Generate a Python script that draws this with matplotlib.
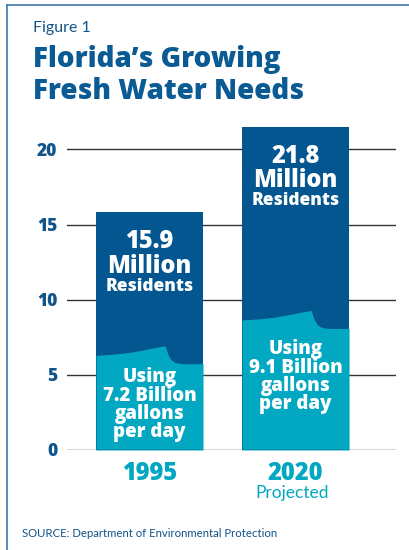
import matplotlib.pyplot as plt
import numpy as np
from matplotlib.lines import Line2D

years = ['1995', '2020']
residents = [15.9, 21.8]          # million residents (label values)
bar_height = [15.8, 21.5]         # bar tops as drawn
water_use = [7.2, 9.1]            # billion gallons per day
water_level = [6.3, 8.65]         # left edge of the water surface
yticks = [0, 5, 10, 15, 20]

dark = '#03568f'
teal = '#02a7c2'
navy = '#11548a'
font = 'Lato'
bfont = 'Open Sans'
heavy = 'extra bold'

fig = plt.figure(figsize=(4.09, 5.50), dpi=100)
ax = fig.add_axes([67 / 409, 100 / 550, 329 / 409, 330.7 / 550])

x = np.arange(len(years))
width = 0.733

# gridlines sit behind the bars
for t in yticks[1:]:
    ax.axhline(t, color='#333333', lw=1.0, zorder=0)

ax.bar(x, bar_height, width, color=dark, zorder=2)

# water with a curling wave on top
cu = [0, 0.15, 0.3, 0.45, 0.57, 0.62, 0.645, 0.655, 0.665, 0.68, 0.70, 0.73, 0.77, 0.82, 1.0]
co = [0, 0.07, 0.18, 0.37, 0.54, 0.61, 0.62, 0.45, 0.2, -0.05, -0.28, -0.45, -0.53, -0.56, -0.56]
u = np.linspace(0, 1, 300)
off = np.interp(u, cu, co)
for xi, lvl in zip(x, water_level):
    xs = xi - width / 2 + u * width
    ax.fill_between(xs, 0, lvl + off, color=teal, lw=0, zorder=3)

ax.axhline(0, color='#333333', lw=1.0, zorder=4)

# labels inside bars
for xi, top, r in zip(x, bar_height, residents):
    ax.text(xi, top - 2.38, f'{r}', ha='center', va='baseline', color='white',
            fontsize=17, fontweight=heavy, family=bfont, zorder=5)
    ax.text(xi, top - 4.03, 'Million', ha='center', va='baseline', color='white',
            fontsize=17, fontweight=heavy, family=bfont, zorder=5)
    ax.text(xi, top - 5.22, 'Residents', ha='center', va='baseline', color='white',
            fontsize=12.5, fontweight=heavy, family=bfont, zorder=5)

# water text block, baseline of the last line
for xi, lvl, w, dy in zip(x, water_level, water_use, [5.44, 5.92]):
    block = '\n'.join(['Using', f'{w} Billion', 'gallons', 'per day'])
    ax.text(xi, lvl - dy, block, ha='center', va='baseline', color='white',
            fontsize=13.5, fontweight=heavy, family=bfont, zorder=5,
            linespacing=0.88, multialignment='center')

ax.set_xlim(-0.565, 1.688)
ax.set_ylim(0, 22)
ax.set_yticks(yticks)
ax.set_yticklabels([str(t) for t in yticks], fontsize=12.5, fontweight=heavy,
                   color=navy, family=bfont)
ax.tick_params(axis='y', length=0, pad=7)
ax.set_xticks([])
for s in ax.spines.values():
    s.set_visible(False)

# category labels
ax.text(0, -0.75, years[0], ha='center', va='top', color=teal, fontsize=17,
        fontweight=heavy, family=bfont)
ax.text(1, -0.75, years[1], ha='center', va='top', color=teal, fontsize=17,
        fontweight=heavy, family=bfont)
ax.text(0.98, -2.3, 'Projected', ha='center', va='top', color=teal, fontsize=12.5,
        family=font)

# titles
fig.text(33 / 409, 1 - 32 / 550, 'Figure 1', color=navy, fontsize=11.5, family=font,
         va='baseline')
fig.text(33 / 409, 1 - 67 / 550, 'Florida\u2019s Growing', color='#0a5a94',
         fontsize=20, fontweight=heavy, family=bfont, va='baseline')
fig.text(33 / 409, 1 - 99 / 550, 'Fresh Water Needs', color='#0a5a94',
         fontsize=20, fontweight=heavy, family=bfont, va='baseline')
fig.text(22 / 409, 1 - 537 / 550, 'SOURCE: Department of Environmental Protection',
         color=navy, fontsize=8.2, family=font, va='baseline')

# open frame, top and left
fig.add_artist(Line2D([6.5 / 409, 1], [1 - 4.5 / 550] * 2, color='#3f78ab', lw=1.2))
fig.add_artist(Line2D([6.5 / 409] * 2, [0, 1 - 4.5 / 550], color='#3f78ab', lw=1.2))

fig.savefig('out.png', dpi=100)
